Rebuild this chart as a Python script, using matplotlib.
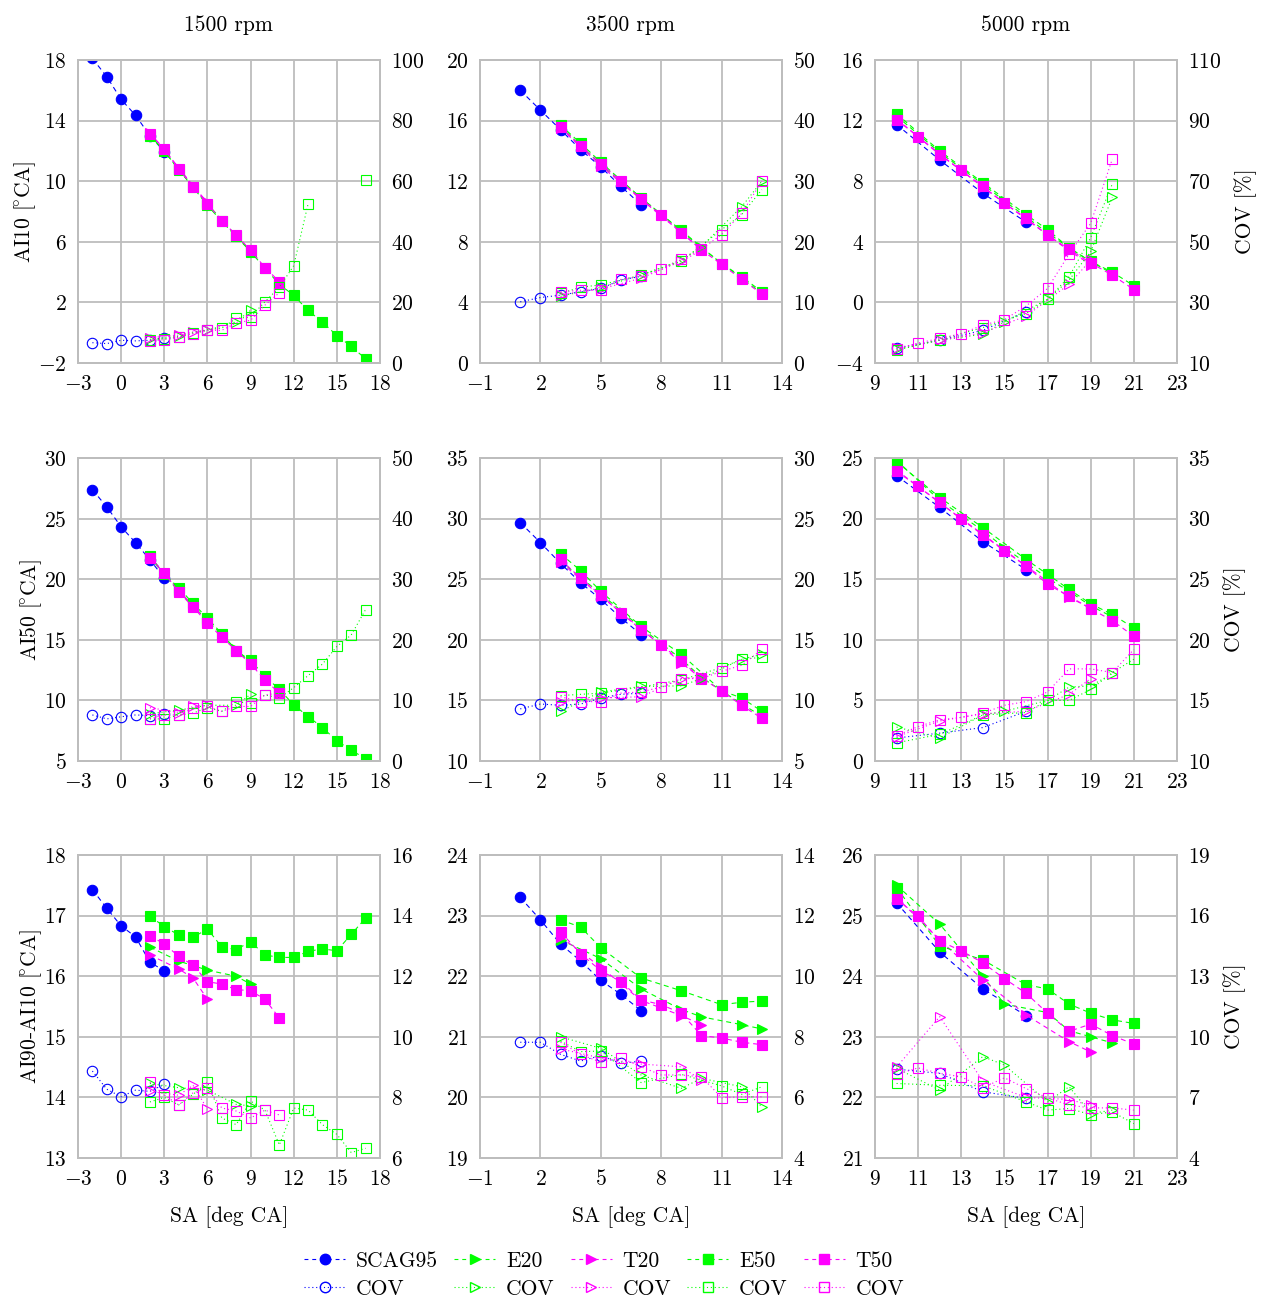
import matplotlib
matplotlib.use("Agg")
import matplotlib.pyplot as plt
from matplotlib.lines import Line2D
import numpy as np

plt.rcParams["font.family"] = ["cmr10", "DejaVu Serif"]
plt.rcParams["mathtext.fontset"] = "cm"
plt.rcParams["axes.formatter.use_mathtext"] = True
plt.rcParams["axes.unicode_minus"] = True

nan = np.nan

# ---------------- 1500 rpm ----------------
R1500_SCAG95 = dict(
    sa=[-2, -1, 0, 1, 2, 3],
    ai10=[18.1, 16.9, 15.4, 14.35, 13.0, 11.95],
    ai10_cov=[6.7, 6.4, 7.5, 7.3, 7.5, 8.4],
    ai50=[27.38, 25.97, 24.32, 23.02, 21.6, 20.1],
    ai50_cov=[7.6, 6.95, 7.3, 7.6, 7.5, 7.7],
    ai90=[17.43, 17.12, 16.83, 16.65, 16.23, 16.09],
    ai90_cov=[8.87, 8.27, 8.02, 8.24, 8.2, 8.43],
)
R1500_E20 = dict(
    sa=[2, 4, 6, 8, 9],
    ai10=[13.1, 10.8, 8.5, 6.4, 5.4],
    ai10_cov=[7.8, 8.8, 10.8, 13.6, 17.4],
    ai50=[21.8, 19.0, 16.6, 14.2, 13.1],
    ai50_cov=[7.8, 8.4, 9.2, 9.2, 11.0],
    ai90=[16.48, 16.25, 16.1, 16.0, 15.87],
    ai90_cov=[8.46, 8.32, 8.24, 7.77, 7.72],
)
R1500_T20 = dict(
    sa=[2, 4, 5, 6],
    ai10=[13.2, 10.9, 9.7, 8.6],
    ai10_cov=[8.4, 9.2, 10.3, 10.8],
    ai50=[21.9, 19.1, 17.8, 16.5],
    ai50_cov=[8.8, 8.0, 9.0, 9.2],
    ai90=[16.35, 16.12, 15.97, 15.62],
    ai90_cov=[8.2, 8.07, 8.4, 7.61],
)
R1500_E50 = dict(
    sa=[2, 3, 4, 5, 6, 7, 8, 9, 10, 11, 12, 13, 14, 15, 16, 17],
    ai10=[13.0, 12.0, 10.75, 9.6, 8.4, 7.35, 6.35, 5.35, 4.25, 3.2,
          2.46, 1.47, 0.7, -0.19, -0.9, -1.73],
    ai10_cov=[7.5, 8.0, 8.5, 10.0, 11.0, 11.5, 14.7, 15.2, 20.2, 25.0,
              32.1, 52.5, nan, nan, nan, 60.5],
    ai50=[21.9, 20.4, 19.3, 18.0, 16.8, 15.5, 14.1, 13.3, 12.0, 10.9,
          9.64, 8.67, 7.76, 6.66, 5.91, 5.17],
    ai50_cov=[6.95, 6.95, 7.6, 7.9, 8.8, 8.2, 9.8, 9.5, 10.9, 10.4,
              12.1, 14.1, 16.0, 18.9, 20.8, 25.0],
    ai90=[16.99, 16.82, 16.68, 16.64, 16.78, 16.48, 16.44, 16.57, 16.35, 16.31,
          16.31, 16.41, 16.45, 16.42, 16.69, 16.96],
    ai90_cov=[7.85, 8.0, 7.75, 8.1, 8.5, 7.32, 7.1, 7.88, 7.58, 6.43,
              7.65, 7.58, 7.1, 6.78, 6.18, 6.32],
)
R1500_T50 = dict(
    sa=[2, 3, 4, 5, 6, 7, 8, 9, 10, 11],
    ai10=[13.14, 12.14, 10.8, 9.65, 8.5, 7.4, 6.44, 5.45, 4.3, 3.37],
    ai10_cov=[7.2, 7.7, 8.6, 9.7, 10.8, 10.8, 13.2, 14.1, 19.1, 23.2],
    ai50=[21.72, 20.53, 18.96, 17.69, 16.4, 15.21, 14.11, 13.0, 11.7, 10.6],
    ai50_cov=[7.0, 7.6, 7.6, 8.7, 9.0, 8.2, 9.0, 9.0, 10.9, 11.2],
    ai90=[16.67, 16.53, 16.33, 16.18, 15.91, 15.87, 15.78, 15.76, 15.62, 15.31],
    ai90_cov=[8.5, 8.08, 7.75, 8.15, 8.3, 7.65, 7.55, 7.32, 7.58, 7.42],
)

# ---------------- 3500 rpm ----------------
R3500_SCAG95 = dict(
    sa=[1, 2, 3, 4, 5, 6, 7],
    ai10=[18.0, 16.69, 15.4, 14.08, 12.94, 11.66, 10.44],
    ai10_cov=[10.1, 10.8, 11.2, 11.75, 12.3, 13.7, 14.3],
    ai50=[29.67, 28.02, 26.3, 24.71, 23.33, 21.81, 20.43],
    ai50_cov=[9.3, 9.7, 9.6, 9.7, 10.2, 10.5, 10.6],
    ai90=[23.30, 22.93, 22.53, 22.25, 21.93, 21.70, 21.43],
    ai90_cov=[7.82, 7.82, 7.42, 7.2, 7.38, 7.12, 7.2],
)
R3500_E20 = dict(
    sa=[3, 5, 7, 9, 10, 12, 13],
    ai10=[15.6, 13.1, 10.9, 8.7, 7.6, 5.6, 4.6],
    ai10_cov=[11.0, 12.5, 14.5, 17.0, 19.2, 25.8, 30.0],
    ai50=[26.5, 23.8, 21.0, 18.4, 16.9, 14.7, 13.7],
    ai50_cov=[9.1, 10.7, 11.15, 11.2, 11.8, 13.4, 13.8],
    ai90=[22.6, 22.29, 21.79, 21.45, 21.33, 21.20, 21.13],
    ai90_cov=[8.0, 7.62, 6.74, 6.3, 6.63, 6.35, 5.69],
)
R3500_T20 = dict(
    sa=[3, 5, 7, 9, 10],
    ai10=[15.5, 13.0, 10.8, 8.6, 7.5],
    ai10_cov=[11.3, 12.2, 14.0, 16.8, 18.6],
    ai50=[26.4, 23.6, 20.9, 18.1, 16.8],
    ai50_cov=[9.9, 10.2, 10.3, 11.8, 11.9],
    ai90=[22.65, 22.15, 21.6, 21.35, 21.2],
    ai90_cov=[7.6, 7.3, 7.1, 7.01, 6.57],
)
R3500_E50 = dict(
    sa=[3, 4, 5, 7, 9, 11, 12, 13],
    ai10=[15.7, 14.5, 13.25, 10.9, 8.75, 6.55, 5.7, 4.7],
    ai10_cov=[11.5, 12.5, 12.9, 14.5, 16.8, 22.0, 24.5, 28.6],
    ai50=[27.1, 25.7, 24.0, 21.1, 18.8, 15.8, 15.2, 14.1],
    ai50_cov=[10.4, 10.5, 10.6, 11.1, 11.7, 12.7, 13.4, 13.55],
    ai90=[22.93, 22.81, 22.47, 21.97, 21.76, 21.53, 21.57, 21.59],
    ai90_cov=[7.86, 7.51, 7.53, 6.49, 6.76, 6.38, 6.1, 6.35],
)
R3500_T50 = dict(
    sa=[3, 4, 5, 6, 7, 8, 9, 10, 11, 12, 13],
    ai10=[15.58, 14.35, 13.16, 11.99, 10.84, 9.78, 8.61, 7.46, 6.51, 5.52, 4.55],
    ai10_cov=[11.75, 12.0, 12.1, 13.8, 14.35, 15.45, 17.1, 18.8, 21.2, 24.7, 30.0],
    ai50=[26.64, 25.07, 23.69, 22.22, 20.84, 19.6, 18.22, 16.84, 15.79, 14.58, 13.53],
    ai50_cov=[10.3, 9.9, 9.9, 10.6, 10.7, 11.1, 11.8, 11.8, 12.4, 12.9, 14.2],
    ai90=[22.73, 22.37, 22.09, 21.91, 21.61, 21.53, 21.39, 21.02, 20.98, 20.91, 20.87],
    ai90_cov=[7.82, 7.42, 7.16, 7.31, 7.01, 6.74, 6.74, 6.68, 5.99, 6.02, 6.02],
)

# ---------------- 5000 rpm ----------------
R5000_SCAG95 = dict(
    sa=[10, 12, 14, 16],
    ai10=[11.74, 9.4, 7.2, 5.3],
    ai10_cov=[15.0, 17.5, 20.8, 26.9],
    ai50=[23.54, 20.92, 18.1, 15.8],
    ai50_cov=[11.9, 12.3, 12.76, 14.1],
    ai90=[25.21, 24.40, 23.79, 23.35],
    ai90_cov=[8.4, 8.19, 7.28, 6.95],
)
R5000_E20 = dict(
    sa=[10, 12, 14, 15, 17, 18, 19, 20],
    ai10=[12.3, 9.9, 7.8, 6.7, 4.6, 3.6, 2.7, 1.9],
    ai10_cov=[14.5, 17.5, 19.5, 23.6, 31.0, 37.4, 46.8, 64.7],
    ai50=[24.8, 21.5, 19.0, 17.6, 15.1, 14.0, 12.8, 11.9],
    ai50_cov=[12.8, 11.9, 13.8, 14.1, 15.0, 16.1, 16.2, 17.2],
    ai90=[25.5, 24.86, 24.0, 23.54, 23.4, 23.1, 23.0, 22.9],
    ai90_cov=[8.44, 7.36, 9.02, 8.6, 6.78, 7.53, 6.2, 6.37],
)
R5000_T20 = dict(
    sa=[10, 12, 14, 16, 18, 19],
    ai10=[12.1, 9.8, 7.6, 5.5, 3.4, 2.5],
    ai10_cov=[14.8, 17.5, 20.0, 25.5, 36.0, 44.0],
    ai50=[24.0, 21.3, 18.7, 16.1, 13.5, 12.6],
    ai50_cov=[12.0, 13.3, 13.9, 14.1, 15.5, 16.8],
    ai90=[25.3, 24.6, 23.94, 23.36, 22.92, 22.75],
    ai90_cov=[8.5, 11.0, 7.8, 7.0, 6.9, 6.6],
)
R5000_E50 = dict(
    sa=[10, 12, 14, 16, 17, 18, 19, 20, 21],
    ai10=[12.45, 10.0, 7.9, 5.8, 4.8, 3.6, 2.7, 2.0, 1.1],
    ai10_cov=[14.2, 17.7, 21.7, 26.3, 31.0, 38.5, 51.4, 69.1, nan],
    ai50=[24.7, 21.74, 19.26, 16.64, 15.4, 14.16, 12.97, 12.09, 10.98],
    ai50_cov=[11.5, 12.2, 13.8, 14.0, 15.0, 15.0, 15.9, 17.3, 18.4],
    ai90=[25.46, 24.5, 24.27, 23.86, 23.79, 23.54, 23.39, 23.28, 23.22],
    ai90_cov=[7.69, 7.6, 7.58, 6.78, 6.37, 6.45, 6.15, 6.28, 5.7],
)
R5000_T50 = dict(
    sa=[10, 11, 12, 13, 14, 15, 16, 17, 18, 19, 20, 21],
    ai10=[12.07, 10.92, 9.75, 8.71, 7.66, 6.55, 5.56, 4.45, 3.5, 2.6, 1.8, 0.85],
    ai10_cov=[14.7, 16.6, 18.1, 19.7, 22.5, 24.3, 28.8, 34.6, 46.0, 56.1, 77.3, nan],
    ai50=[23.9, 22.65, 21.33, 19.95, 18.65, 17.33, 16.09, 14.57, 13.6, 12.56, 11.59, 10.29],
    ai50_cov=[12.1, 12.84, 13.4, 13.6, 13.95, 14.6, 14.9, 15.7, 17.6, 17.6, 17.3, 19.2],
    ai90=[25.27, 24.99, 24.58, 24.42, 24.22, 23.96, 23.72, 23.39, 23.09, 23.21, 23.02, 22.88],
    ai90_cov=[8.14, 8.46, 8.19, 8.02, 7.48, 7.97, 7.44, 6.98, 6.62, 6.48, 6.48, 6.37],
)

speed_titles = ["1500 rpm", "3500 rpm", "5000 rpm"]
fuel_names = ["SCAG95", "E20", "T20", "E50", "T50"]
datasets = [
    [R1500_SCAG95, R1500_E20, R1500_T20, R1500_E50, R1500_T50],
    [R3500_SCAG95, R3500_E20, R3500_T20, R3500_E50, R3500_T50],
    [R5000_SCAG95, R5000_E20, R5000_T20, R5000_E50, R5000_T50],
]
metrics = ["ai10", "ai50", "ai90"]
metric_labels = [r"AI10 [$\!^{\circ}$CA]", r"AI50 [$\!^{\circ}$CA]",
                 r"AI90-AI10 [$\!^{\circ}$CA]"]

# axis limits and tick positions per (row, col)
x_ticks = [np.arange(-3, 19, 3), np.arange(-1, 15, 3), np.arange(9, 24, 2)]
left_ticks = [
    [np.arange(-2, 19, 4), np.arange(0, 21, 4), np.arange(-4, 17, 4)],
    [np.arange(5, 31, 5), np.arange(10, 36, 5), np.arange(0, 26, 5)],
    [np.arange(13, 19, 1), np.arange(19, 25, 1), np.arange(21, 27, 1)],
]
right_ticks = [
    [np.arange(0, 101, 20), np.arange(0, 51, 10), np.arange(10, 111, 20)],
    [np.arange(0, 51, 10), np.arange(5, 31, 5), np.arange(10, 36, 5)],
    [np.arange(6, 17, 2), np.arange(4, 15, 2), np.arange(4, 20, 3)],
]

styles = {
    "SCAG95": dict(color="#0000ff", marker="o"),
    "E20": dict(color="#00ff00", marker=">"),
    "T20": dict(color="#ff00ff", marker=">"),
    "E50": dict(color="#00ff00", marker="s"),
    "T50": dict(color="#ff00ff", marker="s"),
}
MEAN_LS = (0, (4.5, 3.5))
COV_LS = (0, (1, 2.5))
MS = 7.5
LW = 0.8
FS = 15.5
GRID = "#bdbdbd"

W, H = 1264, 1299
fig = plt.figure(figsize=(W / 100, H / 100), dpi=100)

col_left = [78, 480, 875]
col_w = 302
row_top = [60, 458, 855]
row_h = 303

for r in range(3):
    for c in range(3):
        ax = fig.add_axes([col_left[c] / W, 1 - (row_top[r] + row_h) / H,
                           col_w / W, row_h / H])
        tw = ax.twinx()
        key = metrics[r]
        for name, d in zip(fuel_names, datasets[c]):
            st = styles[name]
            ax.plot(d["sa"], d[key], linestyle=MEAN_LS, lw=LW, color=st["color"],
                    marker=st["marker"], ms=MS, mfc=st["color"], mec=st["color"],
                    mew=0.8)
            tw.plot(d["sa"], d[key + "_cov"], linestyle=COV_LS, lw=LW,
                    color=st["color"], marker=st["marker"], ms=MS, mfc="none",
                    mec=st["color"], mew=0.8)

        xt = x_ticks[c]
        lt = left_ticks[r][c]
        rt = right_ticks[r][c]
        ax.set_xlim(xt[0], xt[-1])
        ax.set_xticks(xt)
        ax.set_ylim(lt[0], lt[-1])
        ax.set_yticks(lt)
        tw.set_ylim(rt[0], rt[-1])
        tw.set_yticks(rt)

        ax.grid(True, color=GRID, lw=1.3)
        ax.set_axisbelow(True)
        for a in (ax, tw):
            for sp in a.spines.values():
                sp.set_color(GRID)
                sp.set_linewidth(1.3)
            a.tick_params(length=0, labelsize=FS, colors="black")
        ax.tick_params(axis="y", pad=8)
        ax.tick_params(axis="x", pad=8)
        tw.tick_params(axis="y", pad=8)

        if r == 0:
            ax.set_title(speed_titles[c], fontsize=FS, pad=21)
        if r == 2:
            ax.set_xlabel("SA [deg CA]", fontsize=FS, labelpad=12)
        if c == 0:
            ax.set_ylabel(metric_labels[r], fontsize=FS, labelpad=0)
        if c == 2:
            tw.set_ylabel("COV [%]", fontsize=FS, labelpad=9)

# legend: mean entries on the first row, COV entries on the second
handles, labels = [], []
for name in fuel_names:
    st = styles[name]
    handles.append(Line2D([], [], linestyle=(0, (3.5, 3.5)), lw=LW,
                          color=st["color"], marker=st["marker"], ms=MS,
                          mfc=st["color"]))
    labels.append(name)
    handles.append(Line2D([], [], linestyle=COV_LS, lw=LW, color=st["color"],
                          marker=st["marker"], ms=MS, mfc="none"))
    labels.append("COV")

fig.legend(handles, labels, ncol=5, loc="center",
           bbox_to_anchor=(0.478, 1 - 1275 / H), frameon=False,
           fontsize=FS, handlelength=1.9, handletextpad=0.5,
           columnspacing=0.75, labelspacing=0.4)

fig.savefig("out.png", dpi=100)
